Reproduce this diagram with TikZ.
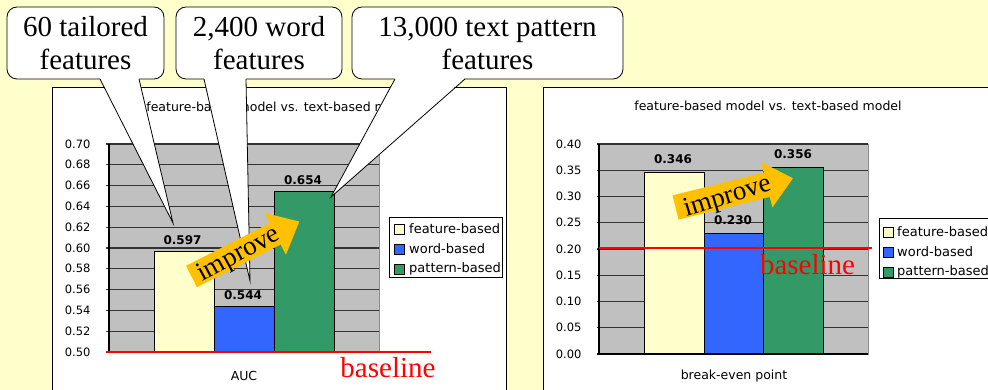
\documentclass[tikz,border=0pt]{standalone}
\usepackage{fontspec}
\setmainfont{Liberation Serif}
\newfontfamily\chartfont{DejaVu Sans}
\definecolor{slidebg}{HTML}{FFFFCC}
\definecolor{plotgray}{HTML}{C0C0C0}
\definecolor{featbar}{HTML}{FFFFCC}
\definecolor{wordbar}{HTML}{3366FF}
\definecolor{pattbar}{HTML}{339966}
\definecolor{improvefill}{HTML}{FFC000}
\tikzset{
  panel/.style={fill=white, draw=black, line width=1pt},
  plotarea/.style={fill=plotgray, draw=black!45, line width=0.8pt},
  gridline/.style={draw=black!80, line width=1.2pt},
  axisline/.style={draw=black, line width=1.2pt},
  ticklabel/.style={left=15pt, inner sep=0pt, font=\chartfont\fontsize{11.5}{12}\selectfont},
  charttitle/.style={inner sep=0pt, font=\chartfont\fontsize{12.5}{13}\selectfont},
  bar/.style={draw=black, line width=0.8pt},
  barvalue/.style={inner sep=0pt, font=\chartfont\bfseries\fontsize{12}{13}\selectfont},
  legendbox/.style={fill=white, draw=black, line width=0.8pt},
  legendkey/.style={draw=black, line width=0.6pt, minimum size=10pt, inner sep=0pt},
  legendtext/.style={anchor=west, inner sep=0pt, font=\chartfont\fontsize{13}{14}\selectfont},
  baseline/.style={draw=red, line width=2.5pt},
  baselinetext/.style={inner sep=0pt, text=red, font=\fontsize{29}{33}\selectfont},
  callout/.style={fill=white, draw=black, line width=0.8pt},
  callouttext/.style={inner sep=0pt, align=center, font=\fontsize{29}{33}\selectfont},
  improvetext/.style={inner sep=0pt, font=\fontsize{27}{30}\selectfont}
}
\begin{document}
\begin{tikzpicture}[x=1pt, y=-1pt]
    \useasboundingbox (0,0) rectangle (988,390);
    \clip (0,0) rectangle (988,390);
    \fill[slidebg] (0,0) rectangle (988,390);

    % Panels
    \draw[panel] (52,88) rectangle (506,400);
    \draw[panel] (543,88) rectangle (1000,400);

    % Titles
    \node[charttitle] (titleauc) at (280,107) {feature-based model vs. text-based model};
    \node[charttitle] (titlebep) at (768,106) {feature-based model vs. text-based model};

    % Plot area AUC
    \draw[plotarea] (109,144) rectangle (379,352);

    % Grid AUC
        \draw[gridline] (379,331.2) -- (106,331.2) node[ticklabel] (a52) {0.52};
        \draw[gridline] (379,310.4) -- (106,310.4) node[ticklabel] (a54) {0.54};
        \draw[gridline] (379,289.6) -- (106,289.6) node[ticklabel] (a56) {0.56};
        \draw[gridline] (379,268.8) -- (106,268.8) node[ticklabel] (a58) {0.58};
        \draw[gridline] (379,248)   -- (106,248)   node[ticklabel] (a60) {0.60};
        \draw[gridline] (379,227.2) -- (106,227.2) node[ticklabel] (a62) {0.62};
        \draw[gridline] (379,206.4) -- (106,206.4) node[ticklabel] (a64) {0.64};
        \draw[gridline] (379,185.6) -- (106,185.6) node[ticklabel] (a66) {0.66};
        \draw[gridline] (379,164.8) -- (106,164.8) node[ticklabel] (a68) {0.68};
        \draw[gridline] (379,144)   -- (106,144)   node[ticklabel] (a70) {0.70};

    % Bars AUC
    \draw[bar, fill=featbar] (154,352) rectangle (214,251);
    \draw[bar, fill=wordbar] (214,352) rectangle (274,306.2);
    \draw[bar, fill=pattbar] (274,352) rectangle (334,191.8);
    \node[barvalue] (vauc1) at (182.5,240) {0.597};
    \node[barvalue] (vauc2) at (243,295) {0.544};
    \node[barvalue] (vauc3) at (303,180) {0.654};

    % Axes AUC
    \draw[axisline] (109,144) -- (109,352);
    \draw[axisline] (379,352) -- (106,352) node[ticklabel] (a50) {0.50};
    \node[charttitle] (xauc) at (244,376) {AUC};

    % Legend AUC
    \draw[legendbox] (389,217) rectangle (502,277);
    \node[legendkey, fill=featbar] (lka1) at (399,229) {};
    \node[legendkey, fill=wordbar] (lka2) at (399,249) {};
    \node[legendkey, fill=pattbar] (lka3) at (399,269) {};
    \node[legendtext] (lta1) at (409,229) {feature-based};
    \node[legendtext] (lta2) at (409,249) {word-based};
    \node[legendtext] (lta3) at (409,269) {pattern-based};

    % Plot area break-even point
    \draw[plotarea] (599,144) rectangle (868,354);

    % Grid break-even point
        \draw[gridline] (868,327.75) -- (597,327.75) node[ticklabel] (b05) {0.05};
        \draw[gridline] (868,301.5)  -- (597,301.5)  node[ticklabel] (b10) {0.10};
        \draw[gridline] (868,275.25) -- (597,275.25) node[ticklabel] (b15) {0.15};
        \draw[gridline] (868,249)    -- (597,249)    node[ticklabel] (b20) {0.20};
        \draw[gridline] (868,222.75) -- (597,222.75) node[ticklabel] (b25) {0.25};
        \draw[gridline] (868,196.5)  -- (597,196.5)  node[ticklabel] (b30) {0.30};
        \draw[gridline] (868,170.25) -- (597,170.25) node[ticklabel] (b35) {0.35};
        \draw[gridline] (868,144)    -- (597,144)    node[ticklabel] (b40) {0.40};

    % Bars break-even point
    \draw[bar, fill=featbar] (644,354) rectangle (704,172.3);
    \draw[bar, fill=wordbar] (704,354) rectangle (763,233.25);
    \draw[bar, fill=pattbar] (763,354) rectangle (823,167.1);
    \node[barvalue] (vbep1) at (673,159) {0.346};
    \node[barvalue] (vbep2) at (733,220) {0.230};
    \node[barvalue] (vbep3) at (793,154) {0.356};

    % Axes break-even point
    \draw[axisline] (599,144) -- (599,354);
    \draw[axisline] (868,354) -- (597,354) node[ticklabel] (b00) {0.00};
    \node[charttitle] (xbep) at (734,376) {break-even point};

    % Legend break-even point
    \draw[legendbox] (879,218) rectangle (1000,278);
    \node[legendkey, fill=featbar] (lkb1) at (888,232) {};
    \node[legendkey, fill=wordbar] (lkb2) at (888,252) {};
    \node[legendkey, fill=pattbar] (lkb3) at (888,272) {};
    \node[legendtext] (ltb1) at (897,232) {feature-based};
    \node[legendtext] (ltb2) at (897,252) {word-based};
    \node[legendtext] (ltb3) at (897,272) {pattern-based};

    % Baselines
    \draw[baseline] (106,352) -- (431,352);
    \node[baselinetext] (blauc) at (388,368) {baseline};
    \draw[baseline] (599,248) -- (872,248);
    \node[baselinetext] (blbep) at (807.5,265) {baseline};

    % Callouts
    \coordinate (tip60) at (173,223);
    \coordinate (tip2400) at (250,281);
    \coordinate (tip13000) at (331,197);

    \draw[callout, rounded corners=10pt] (7,7) rectangle (164,79);
    \fill[white] (100,78) -- (tip60) -- (139,78) -- cycle;
    \draw[callout, fill=none] (100,79) -- (tip60) -- (139,79);
    \node[callouttext] (c60) at (85.5,43.5) {60 tailored\\features};

    \draw[callout, rounded corners=10pt] (176,7) rectangle (342,79);
    \fill[white] (204,78) -- (tip2400) -- (246,78) -- cycle;
    \draw[callout, fill=none] (204,79) -- (tip2400) -- (246,79);
    \node[callouttext] (c2400) at (259,43.5) {2,400 word\\features};

    \draw[callout, rounded corners=10pt] (352,7) rectangle (623,79);
    \fill[white] (395,78) -- (tip13000) -- (465,78) -- cycle;
    \draw[callout, fill=none] (395,79) -- (tip13000) -- (465,79);
    \node[callouttext] (c13000) at (487.5,43.5) {13,000 text pattern\\features};

    % Improve arrows
    \begin{scope}[shift={(191.5,276.5)}, rotate=27]
        \fill[improvefill] (0,12) -- (94,12) -- (94,23.5) -- (121,0) -- (94,-23.5) -- (94,-12) -- (0,-12) -- cycle;
    \end{scope}
    \node[improvetext, rotate=28.5] (impauc) at (239,255) {improve};

    \begin{scope}[shift={(675.5,207.5)}, rotate=14]
        \fill[improvefill] (0,12.5) -- (94,12.5) -- (94,23.5) -- (121,0) -- (94,-23.5) -- (94,-12.5) -- (0,-12.5) -- cycle;
    \end{scope}
    \node[improvetext, rotate=17] (impbep) at (727.5,197.5) {improve};

\end{tikzpicture}
\end{document}
